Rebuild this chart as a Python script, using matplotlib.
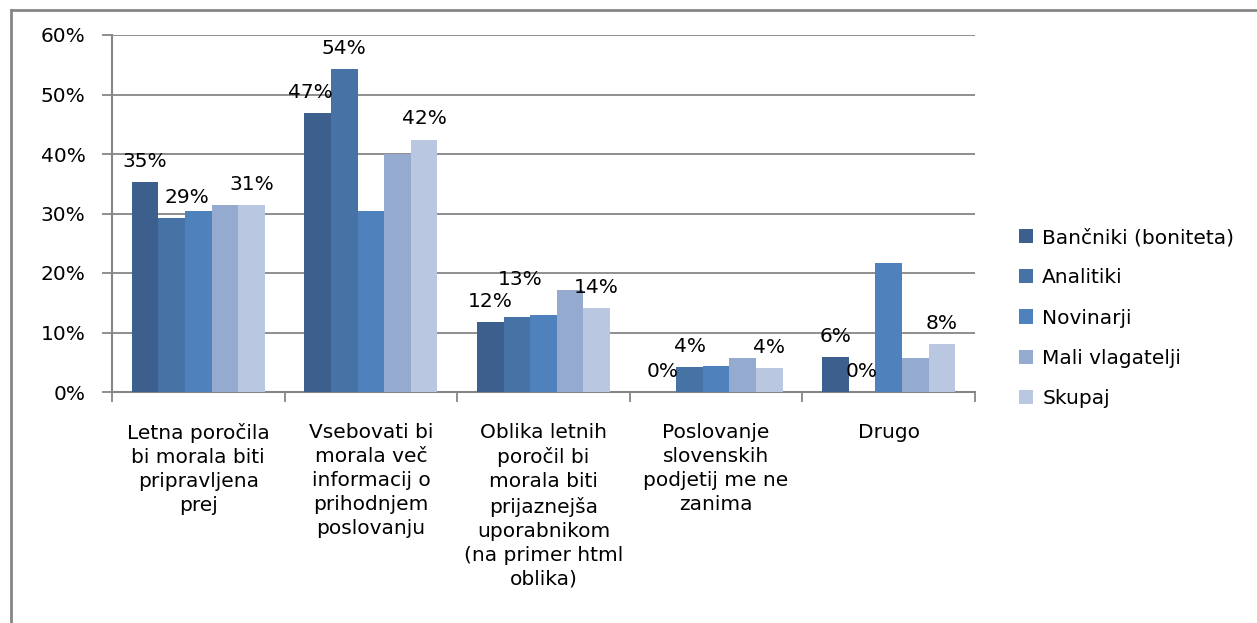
import numpy as np
import matplotlib
matplotlib.use("Agg")
import matplotlib.pyplot as plt
from matplotlib.lines import Line2D
from matplotlib.ticker import PercentFormatter

plt.rcParams['font.family'] = ['DejaVu Sans']

# categories (x axis)
categories = [
    "Letna poročila\nbi morala biti\npripravljena\nprej",
    "Vsebovati bi\nmorala več\ninformacij o\nprihodnjem\nposlovanju",
    "Oblika letnih\nporočil bi\nmorala biti\nprijaznejša\nuporabnikom\n(na primer html\noblika)",
    "Poslovanje\nslovenskih\npodjetij me ne\nzanima",
    "Drugo",
]

# series, values in percent
series_names = ["Bančniki (boniteta)", "Analitiki", "Novinarji", "Mali vlagatelji", "Skupaj"]
bancniki = [35.3, 46.9, 11.8, 0.0, 5.9]
analitiki = [29.2, 54.3, 12.6, 4.2, 0.0]
novinarji = [30.4, 30.4, 13.0, 4.3, 21.7]
mali_vlagatelji = [31.4, 40.0, 17.1, 5.7, 5.7]
skupaj = [31.4, 42.4, 14.1, 4.0, 8.1]

series_values = [bancniki, analitiki, novinarji, mali_vlagatelji, skupaj]
colors = ["#3C5F8D", "#4672A6", "#4F81BD", "#94AACF", "#BAC7E0"]
# Excel only shows data labels for some series
labelled = [True, True, False, False, True]
# Excel nudged a few labels to avoid overlaps: (series, category) -> (dx, dy) in points
nudges = {(1, 0): (11, 0), (0, 1): (-5, 0), (1, 2): (2, 12)}

FS = 14.5
fig = plt.figure(figsize=(12.57, 6.23), dpi=100)
ax = fig.add_axes([112 / 1257, 1 - 392 / 623, (975 - 112) / 1257, (392 - 35) / 623])

x = np.arange(len(categories))
bar_w = 0.154
for i, (name, vals) in enumerate(zip(series_names, series_values)):
    pos = x - 2 * bar_w + i * bar_w
    bars = ax.bar(pos, vals, width=bar_w, color=colors[i], label=name, zorder=3)
    if labelled[i]:
        for j, (rect, v) in enumerate(zip(bars, vals)):
            dx, dy = nudges.get((i, j), (0, 0))
            ax.annotate("%d%%" % round(v), (rect.get_x() + rect.get_width() / 2, v),
                        xytext=(dx, 11 + dy), textcoords="offset points",
                        ha="center", va="baseline", fontsize=FS, zorder=4)

ax.set_xlim(-0.5, len(categories) - 0.5)
ax.set_ylim(0, 60)
ax.set_yticks(np.arange(0, 61, 10))
ax.yaxis.set_major_formatter(PercentFormatter(decimals=0))
ax.grid(axis="y", color="#868686", linewidth=1.3, zorder=0)

ax.set_xticks(np.arange(-0.5, len(categories), 1))
ax.set_xticklabels([])
ax.set_xticks(x, minor=True)
ax.set_xticklabels(categories, minor=True, fontsize=FS, linespacing=1.34, va="top")
ax.tick_params(axis="x", which="minor", length=0, pad=22)
ax.tick_params(axis="x", which="major", length=7, color="#868686", width=1.3)
ax.tick_params(axis="y", length=7, color="#868686", width=1.3, labelsize=FS, pad=12)

for s in ["top", "right"]:
    ax.spines[s].set_visible(False)
for s in ["left", "bottom"]:
    ax.spines[s].set_color("#868686")
    ax.spines[s].set_linewidth(1.5)

leg = fig.legend(loc="center left", bbox_to_anchor=(1001 / 1257, 1 - 318 / 623),
                 frameon=False, fontsize=FS, handlelength=0.7, handleheight=0.7,
                 handletextpad=0.45, labelspacing=1.05)

# outer chart border (left and top edges visible)
fig.add_artist(Line2D([11 / 1257, 11 / 1257], [0, 1 - 10 / 623], color="#868686", linewidth=2))
fig.add_artist(Line2D([11 / 1257, 1], [1 - 10 / 623, 1 - 10 / 623], color="#868686", linewidth=2))

fig.savefig("out.png", dpi=100)
